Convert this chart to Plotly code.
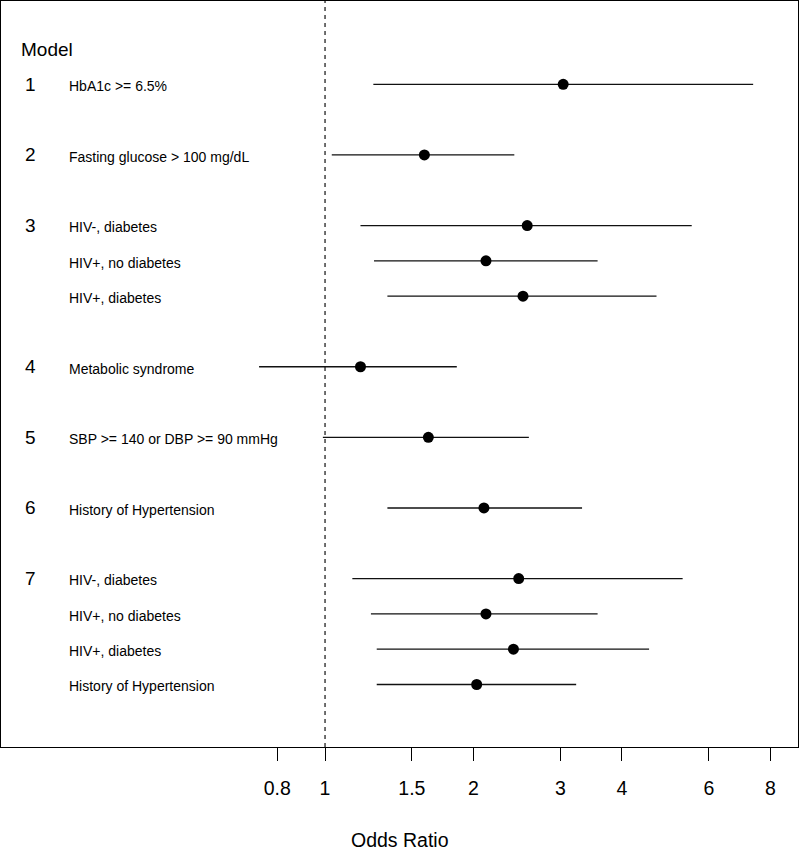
import plotly.graph_objects as go

# ---- data ----
model_nums = ["1", "2", "3", "", "", "4", "5", "6", "7", "", "", ""]
labels = [
    "HbA1c >= 6.5%",
    "Fasting glucose > 100 mg/dL",
    "HIV-, diabetes",
    "HIV+, no diabetes",
    "HIV+, diabetes",
    "Metabolic syndrome",
    "SBP >= 140 or DBP >= 90 mmHg",
    "History of Hypertension",
    "HIV-, diabetes",
    "HIV+, no diabetes",
    "HIV+, diabetes",
    "History of Hypertension",
]
row_pos = [0, 2, 4, 5, 6, 8, 10, 12, 14, 15, 16, 17]
odds_ratio = [3.04, 1.59, 2.57, 2.12, 2.52, 1.18, 1.62, 2.10, 2.47, 2.12, 2.41, 2.03]
ci_low = [1.253, 1.032, 1.18, 1.257, 1.338, 0.735, 0.99, 1.338, 1.136, 1.239, 1.273, 1.273]
ci_high = [7.38, 2.42, 5.54, 3.57, 4.70, 1.85, 2.59, 3.32, 5.31, 3.57, 4.54, 3.23]
tick_vals = [0.8, 1, 1.5, 2, 3, 4, 6, 8]
tick_text = ["0.8", "1", "1.5", "2", "3", "4", "6", "8"]

FONT = "Liberation Sans, Arial, sans-serif"
W, H = 800, 847
ML, MR, MT, MB = 1, 2, 1, 100
PW = W - ML - MR

fig = go.Figure()

# CI lines
xs, ys = [], []
for lo, hi, y in zip(ci_low, ci_high, row_pos):
    xs += [lo, hi, None]
    ys += [y, y, None]
fig.add_trace(go.Scatter(x=xs, y=ys, mode="lines",
                         line=dict(color="#111111", width=1.3),
                         hoverinfo="skip", showlegend=False))

# point estimates
fig.add_trace(go.Scatter(x=odds_ratio, y=row_pos, mode="markers",
                         marker=dict(color="black", size=11, symbol="circle"),
                         showlegend=False))

# reference line at OR = 1
fig.add_shape(type="line", xref="x", yref="paper", x0=1, x1=1, y0=0, y1=1,
              line=dict(color="#111111", width=1.2, dash="4px,4px"))

def px_to_paper_x(px):
    return (px - ML) / PW

# header
fig.add_annotation(text="Model", xref="paper", yref="y", x=px_to_paper_x(19), y=-1.0,
                   xanchor="left", yanchor="middle", showarrow=False,
                   font=dict(family=FONT, size=19, color="black"))

for num, lab, y in zip(model_nums, labels, row_pos):
    if num:
        fig.add_annotation(text=num, xref="paper", yref="y", x=px_to_paper_x(30), y=y,
                           xanchor="center", yanchor="middle", showarrow=False,
                           font=dict(family=FONT, size=19, color="black"))
    fig.add_annotation(text=lab, xref="paper", yref="y", x=px_to_paper_x(67), y=y + 0.05,
                       xanchor="left", yanchor="middle", showarrow=False,
                       font=dict(family=FONT, size=14, color="black"))

# x axis title
fig.add_annotation(text="Odds Ratio", xref="paper", yref="paper",
                   x=px_to_paper_x(400), y=(H - MB - 840) / (H - MT - MB),
                   xanchor="center", yanchor="middle", showarrow=False,
                   font=dict(family=FONT, size=19.5, color="black"))

fig.update_xaxes(type="log", range=[-0.657, 0.959],
                 tickvals=tick_vals, ticktext=tick_text,
                 ticks="outside", ticklen=13, tickwidth=1, tickcolor="black",
                 ticklabelstandoff=10,
                 tickfont=dict(family=FONT, size=19.5, color="black"),
                 showline=True, mirror=True, linecolor="black", linewidth=1.3,
                 showgrid=False, zeroline=False)
fig.update_yaxes(range=[18.77, -2.36], showticklabels=False, ticks="",
                 showline=True, mirror=True, linecolor="black", linewidth=1.3,
                 showgrid=False, zeroline=False)

fig.update_layout(width=W, height=H, margin=dict(l=ML, r=MR, t=MT, b=MB),
                  paper_bgcolor="white", plot_bgcolor="white",
                  font=dict(family=FONT), showlegend=False)

fig.write_html("out.html", config={"displayModeBar": False},
               post_script="document.body.style.margin='0px';document.body.style.overflow='hidden';")
